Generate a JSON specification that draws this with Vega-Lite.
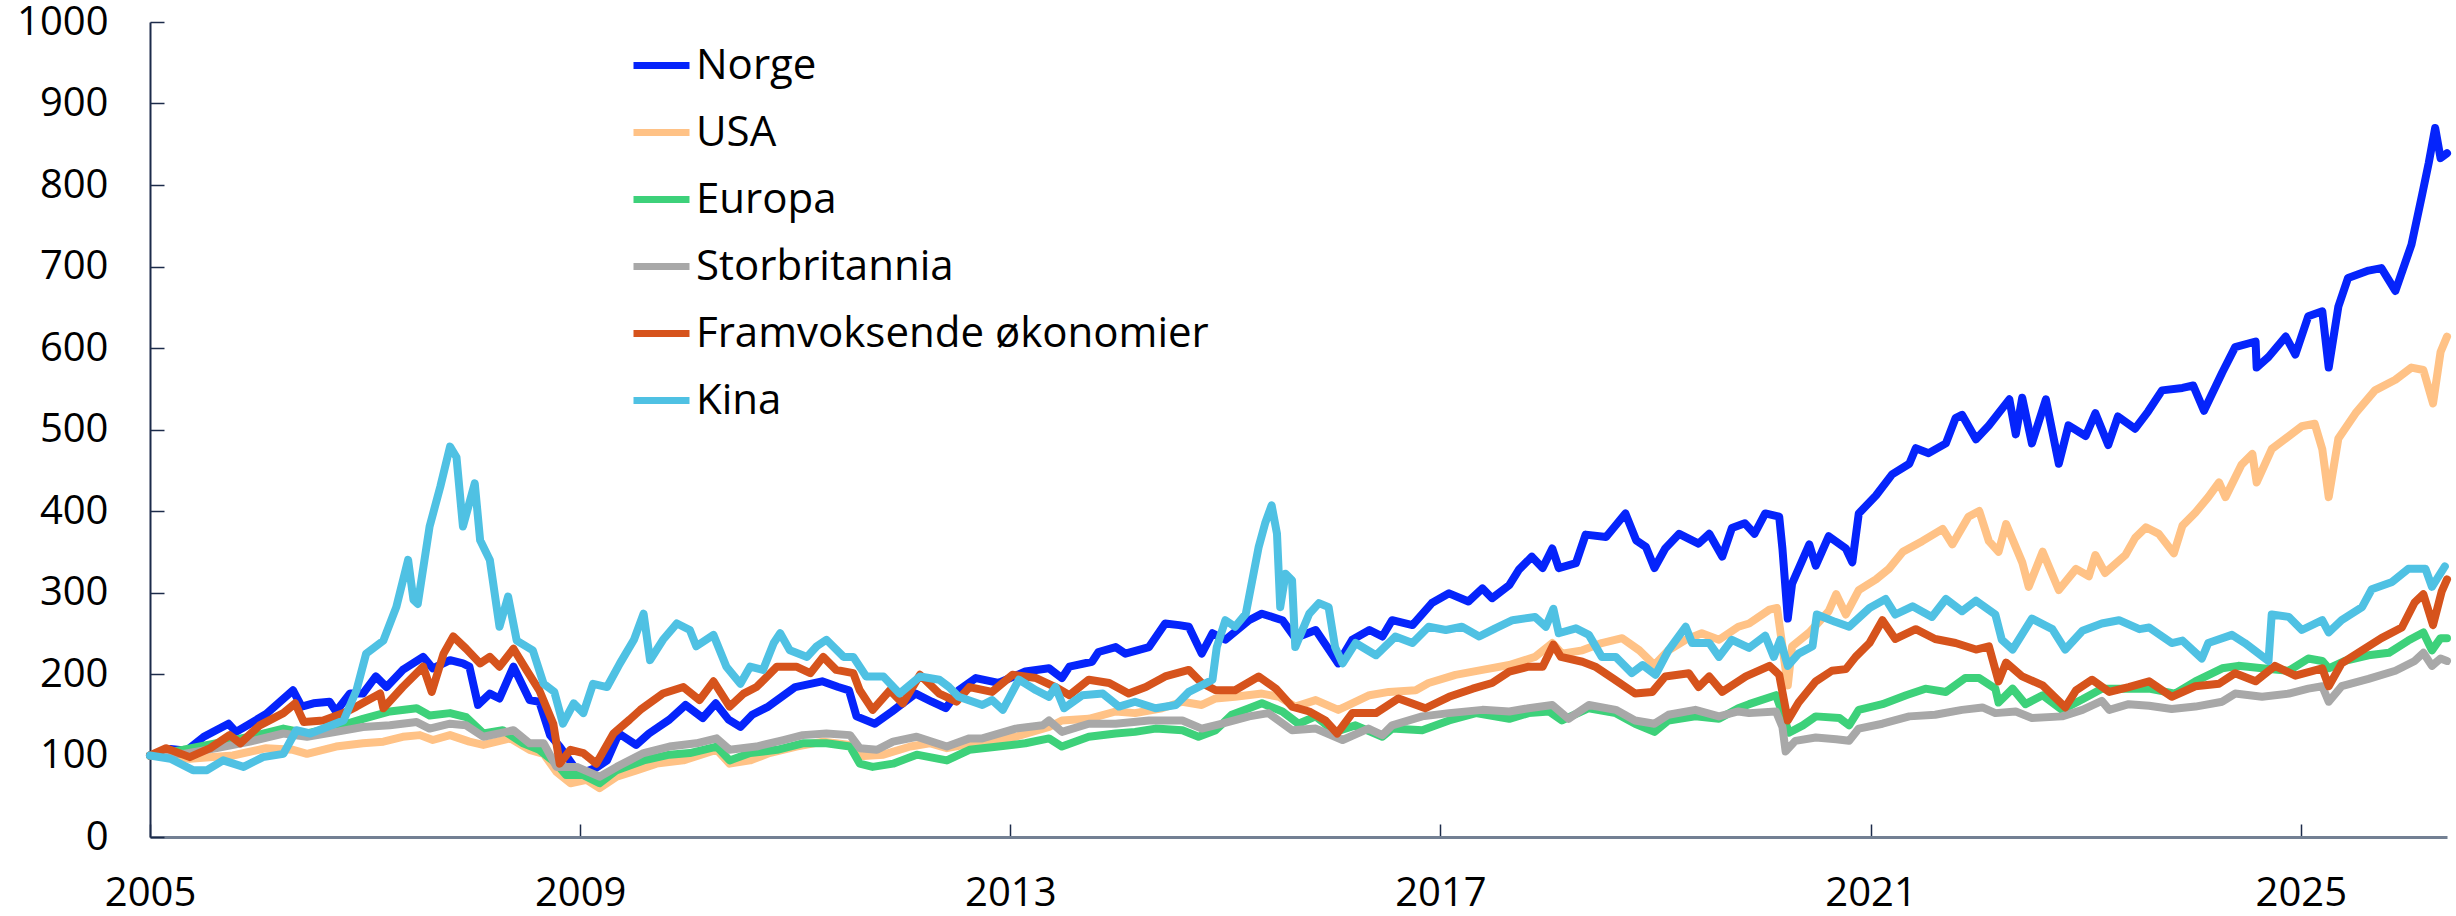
{
"$schema":"https://vega.github.io/schema/vega-lite/v6.json",
"width":2297,"height":815,
"autosize":{"type":"none"},
"padding":{"left":150,"top":22,"right":9,"bottom":79},
"background":"white",
"config":{"view":{"stroke":null},"font":"Open Sans"},
"data":{"values":[
{"s":"Norge","t":2005.0,"v":100},{"s":"Norge","t":2005.19,"v":108},{"s":"Norge","t":2005.34,"v":106},{"s":"Norge","t":2005.5,"v":123},{"s":"Norge","t":2005.73,"v":139},{"s":"Norge","t":2005.8,"v":129},{"s":"Norge","t":2005.93,"v":139},{"s":"Norge","t":2006.08,"v":151},{"s":"Norge","t":2006.33,"v":180},{"s":"Norge","t":2006.41,"v":160},{"s":"Norge","t":2006.52,"v":164},{"s":"Norge","t":2006.67,"v":166},{"s":"Norge","t":2006.73,"v":154},{"s":"Norge","t":2006.86,"v":176},{"s":"Norge","t":2006.98,"v":176},{"s":"Norge","t":2007.1,"v":197},{"s":"Norge","t":2007.2,"v":184},{"s":"Norge","t":2007.35,"v":205},{"s":"Norge","t":2007.54,"v":221},{"s":"Norge","t":2007.63,"v":207},{"s":"Norge","t":2007.79,"v":217},{"s":"Norge","t":2007.91,"v":213},{"s":"Norge","t":2007.97,"v":209},{"s":"Norge","t":2008.05,"v":162},{"s":"Norge","t":2008.16,"v":176},{"s":"Norge","t":2008.25,"v":170},{"s":"Norge","t":2008.38,"v":209},{"s":"Norge","t":2008.53,"v":168},{"s":"Norge","t":2008.62,"v":166},{"s":"Norge","t":2008.72,"v":125},{"s":"Norge","t":2008.81,"v":111},{"s":"Norge","t":2008.87,"v":100},{"s":"Norge","t":2008.95,"v":85},{"s":"Norge","t":2009.05,"v":80},{"s":"Norge","t":2009.15,"v":85},{"s":"Norge","t":2009.25,"v":94},{"s":"Norge","t":2009.36,"v":127},{"s":"Norge","t":2009.52,"v":113},{"s":"Norge","t":2009.64,"v":127},{"s":"Norge","t":2009.83,"v":144},{"s":"Norge","t":2009.98,"v":162},{"s":"Norge","t":2010.14,"v":146},{"s":"Norge","t":2010.26,"v":164},{"s":"Norge","t":2010.38,"v":144},{"s":"Norge","t":2010.49,"v":135},{"s":"Norge","t":2010.6,"v":150},{"s":"Norge","t":2010.75,"v":160},{"s":"Norge","t":2011.0,"v":184},{"s":"Norge","t":2011.25,"v":191},{"s":"Norge","t":2011.4,"v":184},{"s":"Norge","t":2011.5,"v":180},{"s":"Norge","t":2011.57,"v":148},{"s":"Norge","t":2011.74,"v":139},{"s":"Norge","t":2011.9,"v":154},{"s":"Norge","t":2012.12,"v":176},{"s":"Norge","t":2012.27,"v":166},{"s":"Norge","t":2012.4,"v":158},{"s":"Norge","t":2012.52,"v":180},{"s":"Norge","t":2012.68,"v":195},{"s":"Norge","t":2012.89,"v":189},{"s":"Norge","t":2013.14,"v":203},{"s":"Norge","t":2013.36,"v":207},{"s":"Norge","t":2013.48,"v":195},{"s":"Norge","t":2013.55,"v":209},{"s":"Norge","t":2013.76,"v":215},{"s":"Norge","t":2013.82,"v":227},{"s":"Norge","t":2013.98,"v":233},{"s":"Norge","t":2014.07,"v":225},{"s":"Norge","t":2014.29,"v":233},{"s":"Norge","t":2014.44,"v":262},{"s":"Norge","t":2014.57,"v":260},{"s":"Norge","t":2014.66,"v":258},{"s":"Norge","t":2014.78,"v":225},{"s":"Norge","t":2014.88,"v":250},{"s":"Norge","t":2015.0,"v":242},{"s":"Norge","t":2015.22,"v":266},{"s":"Norge","t":2015.34,"v":274},{"s":"Norge","t":2015.53,"v":266},{"s":"Norge","t":2015.65,"v":244},{"s":"Norge","t":2015.84,"v":254},{"s":"Norge","t":2016.05,"v":213},{"s":"Norge","t":2016.18,"v":242},{"s":"Norge","t":2016.34,"v":254},{"s":"Norge","t":2016.46,"v":246},{"s":"Norge","t":2016.55,"v":266},{"s":"Norge","t":2016.74,"v":260},{"s":"Norge","t":2016.92,"v":287},{"s":"Norge","t":2017.08,"v":299},{"s":"Norge","t":2017.26,"v":289},{"s":"Norge","t":2017.39,"v":305},{"s":"Norge","t":2017.48,"v":293},{"s":"Norge","t":2017.64,"v":309},{"s":"Norge","t":2017.73,"v":328},{"s":"Norge","t":2017.85,"v":344},{"s":"Norge","t":2017.95,"v":330},{"s":"Norge","t":2018.04,"v":354},{"s":"Norge","t":2018.1,"v":330},{"s":"Norge","t":2018.26,"v":336},{"s":"Norge","t":2018.35,"v":371},{"s":"Norge","t":2018.54,"v":368},{"s":"Norge","t":2018.72,"v":397},{"s":"Norge","t":2018.82,"v":364},{"s":"Norge","t":2018.91,"v":356},{"s":"Norge","t":2018.99,"v":330},{"s":"Norge","t":2019.09,"v":354},{"s":"Norge","t":2019.22,"v":372},{"s":"Norge","t":2019.4,"v":360},{"s":"Norge","t":2019.5,"v":372},{"s":"Norge","t":2019.62,"v":344},{"s":"Norge","t":2019.71,"v":379},{"s":"Norge","t":2019.83,"v":385},{"s":"Norge","t":2019.92,"v":372},{"s":"Norge","t":2020.02,"v":397},{"s":"Norge","t":2020.15,"v":393},{"s":"Norge","t":2020.18,"v":354},{"s":"Norge","t":2020.23,"v":268},{"s":"Norge","t":2020.27,"v":311},{"s":"Norge","t":2020.43,"v":359},{"s":"Norge","t":2020.49,"v":333},{"s":"Norge","t":2020.61,"v":369},{"s":"Norge","t":2020.77,"v":354},{"s":"Norge","t":2020.83,"v":337},{"s":"Norge","t":2020.89,"v":397},{"s":"Norge","t":2021.05,"v":419},{"s":"Norge","t":2021.2,"v":445},{"s":"Norge","t":2021.36,"v":458},{"s":"Norge","t":2021.42,"v":477},{"s":"Norge","t":2021.54,"v":471},{"s":"Norge","t":2021.7,"v":483},{"s":"Norge","t":2021.79,"v":514},{"s":"Norge","t":2021.85,"v":518},{"s":"Norge","t":2021.98,"v":488},{"s":"Norge","t":2022.1,"v":505},{"s":"Norge","t":2022.29,"v":537},{"s":"Norge","t":2022.35,"v":494},{"s":"Norge","t":2022.41,"v":539},{"s":"Norge","t":2022.5,"v":483},{"s":"Norge","t":2022.63,"v":537},{"s":"Norge","t":2022.75,"v":458},{"s":"Norge","t":2022.84,"v":505},{"s":"Norge","t":2023.0,"v":492},{"s":"Norge","t":2023.09,"v":520},{"s":"Norge","t":2023.21,"v":481},{"s":"Norge","t":2023.3,"v":516},{"s":"Norge","t":2023.46,"v":501},{"s":"Norge","t":2023.58,"v":522},{"s":"Norge","t":2023.71,"v":548},{"s":"Norge","t":2023.9,"v":551},{"s":"Norge","t":2024.0,"v":554},{"s":"Norge","t":2024.1,"v":523},{"s":"Norge","t":2024.27,"v":570},{"s":"Norge","t":2024.39,"v":601},{"s":"Norge","t":2024.58,"v":608},{"s":"Norge","t":2024.59,"v":576},{"s":"Norge","t":2024.7,"v":589},{"s":"Norge","t":2024.86,"v":614},{"s":"Norge","t":2024.95,"v":592},{"s":"Norge","t":2025.07,"v":639},{"s":"Norge","t":2025.2,"v":645},{"s":"Norge","t":2025.26,"v":576},{"s":"Norge","t":2025.35,"v":651},{"s":"Norge","t":2025.44,"v":686},{"s":"Norge","t":2025.63,"v":695},{"s":"Norge","t":2025.75,"v":698},{"s":"Norge","t":2025.88,"v":670},{"s":"Norge","t":2026.03,"v":727},{"s":"Norge","t":2026.13,"v":789},{"s":"Norge","t":2026.19,"v":827},{"s":"Norge","t":2026.25,"v":870},{"s":"Norge","t":2026.3,"v":833},{"s":"Norge","t":2026.36,"v":839},
{"s":"USA","t":2005.0,"v":100},{"s":"USA","t":2005.37,"v":96},{"s":"USA","t":2005.77,"v":100},{"s":"USA","t":2006.08,"v":109},{"s":"USA","t":2006.33,"v":107},{"s":"USA","t":2006.46,"v":102},{"s":"USA","t":2006.73,"v":111},{"s":"USA","t":2006.98,"v":115},{"s":"USA","t":2007.17,"v":117},{"s":"USA","t":2007.35,"v":123},{"s":"USA","t":2007.51,"v":125},{"s":"USA","t":2007.63,"v":119},{"s":"USA","t":2007.79,"v":125},{"s":"USA","t":2007.97,"v":117},{"s":"USA","t":2008.1,"v":113},{"s":"USA","t":2008.35,"v":121},{"s":"USA","t":2008.53,"v":107},{"s":"USA","t":2008.66,"v":102},{"s":"USA","t":2008.78,"v":80},{"s":"USA","t":2008.91,"v":66},{"s":"USA","t":2009.06,"v":70},{"s":"USA","t":2009.18,"v":60},{"s":"USA","t":2009.34,"v":74},{"s":"USA","t":2009.53,"v":82},{"s":"USA","t":2009.71,"v":90},{"s":"USA","t":2009.96,"v":94},{"s":"USA","t":2010.27,"v":107},{"s":"USA","t":2010.39,"v":90},{"s":"USA","t":2010.58,"v":94},{"s":"USA","t":2010.76,"v":103},{"s":"USA","t":2011.01,"v":111},{"s":"USA","t":2011.26,"v":117},{"s":"USA","t":2011.51,"v":113},{"s":"USA","t":2011.6,"v":99},{"s":"USA","t":2011.82,"v":101},{"s":"USA","t":2012.07,"v":111},{"s":"USA","t":2012.25,"v":115},{"s":"USA","t":2012.41,"v":109},{"s":"USA","t":2012.74,"v":117},{"s":"USA","t":2013.05,"v":123},{"s":"USA","t":2013.36,"v":135},{"s":"USA","t":2013.48,"v":143},{"s":"USA","t":2013.73,"v":145},{"s":"USA","t":2013.98,"v":154},{"s":"USA","t":2014.16,"v":152},{"s":"USA","t":2014.41,"v":158},{"s":"USA","t":2014.6,"v":166},{"s":"USA","t":2014.78,"v":162},{"s":"USA","t":2014.91,"v":170},{"s":"USA","t":2015.09,"v":172},{"s":"USA","t":2015.34,"v":176},{"s":"USA","t":2015.5,"v":172},{"s":"USA","t":2015.65,"v":160},{"s":"USA","t":2015.84,"v":168},{"s":"USA","t":2016.05,"v":156},{"s":"USA","t":2016.15,"v":162},{"s":"USA","t":2016.34,"v":174},{"s":"USA","t":2016.52,"v":178},{"s":"USA","t":2016.77,"v":180},{"s":"USA","t":2016.89,"v":189},{"s":"USA","t":2017.14,"v":199},{"s":"USA","t":2017.39,"v":205},{"s":"USA","t":2017.64,"v":211},{"s":"USA","t":2017.88,"v":221},{"s":"USA","t":2018.04,"v":238},{"s":"USA","t":2018.13,"v":225},{"s":"USA","t":2018.32,"v":229},{"s":"USA","t":2018.5,"v":238},{"s":"USA","t":2018.69,"v":244},{"s":"USA","t":2018.85,"v":229},{"s":"USA","t":2018.99,"v":211},{"s":"USA","t":2019.12,"v":229},{"s":"USA","t":2019.28,"v":242},{"s":"USA","t":2019.43,"v":250},{"s":"USA","t":2019.59,"v":242},{"s":"USA","t":2019.77,"v":258},{"s":"USA","t":2019.87,"v":262},{"s":"USA","t":2020.06,"v":279},{"s":"USA","t":2020.13,"v":281},{"s":"USA","t":2020.18,"v":234},{"s":"USA","t":2020.23,"v":186},{"s":"USA","t":2020.27,"v":234},{"s":"USA","t":2020.43,"v":251},{"s":"USA","t":2020.61,"v":277},{"s":"USA","t":2020.68,"v":298},{"s":"USA","t":2020.77,"v":273},{"s":"USA","t":2020.89,"v":303},{"s":"USA","t":2021.05,"v":316},{"s":"USA","t":2021.17,"v":329},{"s":"USA","t":2021.3,"v":350},{"s":"USA","t":2021.48,"v":363},{"s":"USA","t":2021.67,"v":378},{"s":"USA","t":2021.76,"v":359},{"s":"USA","t":2021.91,"v":393},{"s":"USA","t":2022.01,"v":400},{"s":"USA","t":2022.1,"v":363},{"s":"USA","t":2022.19,"v":350},{"s":"USA","t":2022.26,"v":384},{"s":"USA","t":2022.41,"v":337},{"s":"USA","t":2022.47,"v":307},{"s":"USA","t":2022.6,"v":350},{"s":"USA","t":2022.75,"v":303},{"s":"USA","t":2022.91,"v":329},{"s":"USA","t":2023.03,"v":320},{"s":"USA","t":2023.09,"v":346},{"s":"USA","t":2023.18,"v":324},{"s":"USA","t":2023.37,"v":346},{"s":"USA","t":2023.46,"v":367},{"s":"USA","t":2023.56,"v":380},{"s":"USA","t":2023.68,"v":372},{"s":"USA","t":2023.82,"v":348},{"s":"USA","t":2023.9,"v":382},{"s":"USA","t":2024.02,"v":398},{"s":"USA","t":2024.14,"v":417},{"s":"USA","t":2024.24,"v":435},{"s":"USA","t":2024.3,"v":417},{"s":"USA","t":2024.45,"v":457},{"s":"USA","t":2024.55,"v":470},{"s":"USA","t":2024.59,"v":435},{"s":"USA","t":2024.73,"v":476},{"s":"USA","t":2024.86,"v":489},{"s":"USA","t":2025.01,"v":504},{"s":"USA","t":2025.13,"v":507},{"s":"USA","t":2025.2,"v":476},{"s":"USA","t":2025.26,"v":417},{"s":"USA","t":2025.35,"v":489},{"s":"USA","t":2025.51,"v":520},{"s":"USA","t":2025.69,"v":548},{"s":"USA","t":2025.88,"v":561},{"s":"USA","t":2026.03,"v":576},{"s":"USA","t":2026.14,"v":573},{"s":"USA","t":2026.23,"v":532},{"s":"USA","t":2026.3,"v":595},{"s":"USA","t":2026.36,"v":614},
{"s":"Europa","t":2005.0,"v":100},{"s":"Europa","t":2005.31,"v":107},{"s":"Europa","t":2005.62,"v":115},{"s":"Europa","t":2005.93,"v":123},{"s":"Europa","t":2006.24,"v":133},{"s":"Europa","t":2006.46,"v":127},{"s":"Europa","t":2006.73,"v":135},{"s":"Europa","t":2006.98,"v":145},{"s":"Europa","t":2007.23,"v":154},{"s":"Europa","t":2007.48,"v":158},{"s":"Europa","t":2007.6,"v":149},{"s":"Europa","t":2007.79,"v":152},{"s":"Europa","t":2007.94,"v":147},{"s":"Europa","t":2008.1,"v":127},{"s":"Europa","t":2008.28,"v":131},{"s":"Europa","t":2008.47,"v":115},{"s":"Europa","t":2008.62,"v":107},{"s":"Europa","t":2008.78,"v":90},{"s":"Europa","t":2008.87,"v":76},{"s":"Europa","t":2009.03,"v":76},{"s":"Europa","t":2009.18,"v":66},{"s":"Europa","t":2009.34,"v":82},{"s":"Europa","t":2009.59,"v":94},{"s":"Europa","t":2009.83,"v":101},{"s":"Europa","t":2010.02,"v":103},{"s":"Europa","t":2010.27,"v":111},{"s":"Europa","t":2010.39,"v":94},{"s":"Europa","t":2010.58,"v":103},{"s":"Europa","t":2010.83,"v":107},{"s":"Europa","t":2011.07,"v":115},{"s":"Europa","t":2011.29,"v":115},{"s":"Europa","t":2011.51,"v":111},{"s":"Europa","t":2011.6,"v":90},{"s":"Europa","t":2011.72,"v":86},{"s":"Europa","t":2011.91,"v":90},{"s":"Europa","t":2012.13,"v":101},{"s":"Europa","t":2012.41,"v":94},{"s":"Europa","t":2012.62,"v":107},{"s":"Europa","t":2012.89,"v":111},{"s":"Europa","t":2013.14,"v":115},{"s":"Europa","t":2013.36,"v":121},{"s":"Europa","t":2013.48,"v":111},{"s":"Europa","t":2013.73,"v":123},{"s":"Europa","t":2013.98,"v":127},{"s":"Europa","t":2014.16,"v":129},{"s":"Europa","t":2014.35,"v":133},{"s":"Europa","t":2014.6,"v":131},{"s":"Europa","t":2014.75,"v":123},{"s":"Europa","t":2014.91,"v":131},{"s":"Europa","t":2015.06,"v":150},{"s":"Europa","t":2015.22,"v":158},{"s":"Europa","t":2015.34,"v":164},{"s":"Europa","t":2015.53,"v":154},{"s":"Europa","t":2015.68,"v":139},{"s":"Europa","t":2015.84,"v":148},{"s":"Europa","t":2016.02,"v":129},{"s":"Europa","t":2016.21,"v":137},{"s":"Europa","t":2016.46,"v":123},{"s":"Europa","t":2016.55,"v":133},{"s":"Europa","t":2016.83,"v":131},{"s":"Europa","t":2017.08,"v":143},{"s":"Europa","t":2017.33,"v":152},{"s":"Europa","t":2017.64,"v":145},{"s":"Europa","t":2017.82,"v":152},{"s":"Europa","t":2018.01,"v":154},{"s":"Europa","t":2018.13,"v":143},{"s":"Europa","t":2018.38,"v":158},{"s":"Europa","t":2018.63,"v":152},{"s":"Europa","t":2018.81,"v":139},{"s":"Europa","t":2018.99,"v":129},{"s":"Europa","t":2019.12,"v":143},{"s":"Europa","t":2019.37,"v":148},{"s":"Europa","t":2019.59,"v":145},{"s":"Europa","t":2019.77,"v":158},{"s":"Europa","t":2019.87,"v":163},{"s":"Europa","t":2020.12,"v":174},{"s":"Europa","t":2020.18,"v":152},{"s":"Europa","t":2020.24,"v":128},{"s":"Europa","t":2020.37,"v":137},{"s":"Europa","t":2020.49,"v":148},{"s":"Europa","t":2020.71,"v":146},{"s":"Europa","t":2020.8,"v":137},{"s":"Europa","t":2020.89,"v":156},{"s":"Europa","t":2021.11,"v":163},{"s":"Europa","t":2021.33,"v":174},{"s":"Europa","t":2021.51,"v":182},{"s":"Europa","t":2021.7,"v":178},{"s":"Europa","t":2021.88,"v":195},{"s":"Europa","t":2022.01,"v":195},{"s":"Europa","t":2022.16,"v":182},{"s":"Europa","t":2022.19,"v":165},{"s":"Europa","t":2022.32,"v":182},{"s":"Europa","t":2022.44,"v":163},{"s":"Europa","t":2022.6,"v":174},{"s":"Europa","t":2022.78,"v":156},{"s":"Europa","t":2022.97,"v":169},{"s":"Europa","t":2023.15,"v":182},{"s":"Europa","t":2023.4,"v":182},{"s":"Europa","t":2023.59,"v":182},{"s":"Europa","t":2023.83,"v":176},{"s":"Europa","t":2024.02,"v":191},{"s":"Europa","t":2024.27,"v":207},{"s":"Europa","t":2024.42,"v":210},{"s":"Europa","t":2024.64,"v":207},{"s":"Europa","t":2024.89,"v":204},{"s":"Europa","t":2025.07,"v":219},{"s":"Europa","t":2025.2,"v":216},{"s":"Europa","t":2025.26,"v":207},{"s":"Europa","t":2025.41,"v":216},{"s":"Europa","t":2025.63,"v":223},{"s":"Europa","t":2025.82,"v":226},{"s":"Europa","t":2026.0,"v":241},{"s":"Europa","t":2026.14,"v":251},{"s":"Europa","t":2026.22,"v":229},{"s":"Europa","t":2026.3,"v":244},{"s":"Europa","t":2026.36,"v":244},
{"s":"Storbritannia","t":2005.0,"v":100},{"s":"Storbritannia","t":2005.31,"v":102},{"s":"Storbritannia","t":2005.62,"v":109},{"s":"Storbritannia","t":2005.93,"v":117},{"s":"Storbritannia","t":2006.24,"v":127},{"s":"Storbritannia","t":2006.46,"v":123},{"s":"Storbritannia","t":2006.73,"v":129},{"s":"Storbritannia","t":2006.98,"v":135},{"s":"Storbritannia","t":2007.23,"v":137},{"s":"Storbritannia","t":2007.48,"v":141},{"s":"Storbritannia","t":2007.6,"v":133},{"s":"Storbritannia","t":2007.79,"v":139},{"s":"Storbritannia","t":2007.94,"v":137},{"s":"Storbritannia","t":2008.1,"v":123},{"s":"Storbritannia","t":2008.38,"v":131},{"s":"Storbritannia","t":2008.53,"v":115},{"s":"Storbritannia","t":2008.66,"v":115},{"s":"Storbritannia","t":2008.78,"v":86},{"s":"Storbritannia","t":2008.97,"v":86},{"s":"Storbritannia","t":2009.18,"v":74},{"s":"Storbritannia","t":2009.34,"v":86},{"s":"Storbritannia","t":2009.59,"v":103},{"s":"Storbritannia","t":2009.83,"v":111},{"s":"Storbritannia","t":2010.08,"v":115},{"s":"Storbritannia","t":2010.27,"v":121},{"s":"Storbritannia","t":2010.39,"v":107},{"s":"Storbritannia","t":2010.64,"v":111},{"s":"Storbritannia","t":2010.89,"v":119},{"s":"Storbritannia","t":2011.07,"v":125},{"s":"Storbritannia","t":2011.29,"v":127},{"s":"Storbritannia","t":2011.51,"v":125},{"s":"Storbritannia","t":2011.6,"v":109},{"s":"Storbritannia","t":2011.76,"v":107},{"s":"Storbritannia","t":2011.91,"v":117},{"s":"Storbritannia","t":2012.13,"v":123},{"s":"Storbritannia","t":2012.41,"v":111},{"s":"Storbritannia","t":2012.62,"v":121},{"s":"Storbritannia","t":2012.74,"v":121},{"s":"Storbritannia","t":2013.05,"v":133},{"s":"Storbritannia","t":2013.3,"v":137},{"s":"Storbritannia","t":2013.36,"v":143},{"s":"Storbritannia","t":2013.48,"v":129},{"s":"Storbritannia","t":2013.73,"v":139},{"s":"Storbritannia","t":2013.98,"v":139},{"s":"Storbritannia","t":2014.29,"v":143},{"s":"Storbritannia","t":2014.6,"v":143},{"s":"Storbritannia","t":2014.78,"v":133},{"s":"Storbritannia","t":2014.97,"v":139},{"s":"Storbritannia","t":2015.22,"v":148},{"s":"Storbritannia","t":2015.4,"v":152},{"s":"Storbritannia","t":2015.62,"v":131},{"s":"Storbritannia","t":2015.84,"v":133},{"s":"Storbritannia","t":2016.09,"v":119},{"s":"Storbritannia","t":2016.33,"v":133},{"s":"Storbritannia","t":2016.46,"v":125},{"s":"Storbritannia","t":2016.55,"v":137},{"s":"Storbritannia","t":2016.83,"v":148},{"s":"Storbritannia","t":2017.08,"v":152},{"s":"Storbritannia","t":2017.39,"v":156},{"s":"Storbritannia","t":2017.64,"v":154},{"s":"Storbritannia","t":2017.82,"v":158},{"s":"Storbritannia","t":2018.04,"v":162},{"s":"Storbritannia","t":2018.19,"v":145},{"s":"Storbritannia","t":2018.38,"v":162},{"s":"Storbritannia","t":2018.63,"v":156},{"s":"Storbritannia","t":2018.81,"v":143},{"s":"Storbritannia","t":2018.99,"v":139},{"s":"Storbritannia","t":2019.12,"v":150},{"s":"Storbritannia","t":2019.37,"v":156},{"s":"Storbritannia","t":2019.59,"v":148},{"s":"Storbritannia","t":2019.77,"v":154},{"s":"Storbritannia","t":2019.87,"v":152},{"s":"Storbritannia","t":2020.12,"v":154},{"s":"Storbritannia","t":2020.18,"v":135},{"s":"Storbritannia","t":2020.21,"v":105},{"s":"Storbritannia","t":2020.3,"v":118},{"s":"Storbritannia","t":2020.49,"v":122},{"s":"Storbritannia","t":2020.68,"v":120},{"s":"Storbritannia","t":2020.8,"v":118},{"s":"Storbritannia","t":2020.89,"v":133},{"s":"Storbritannia","t":2021.11,"v":139},{"s":"Storbritannia","t":2021.36,"v":148},{"s":"Storbritannia","t":2021.6,"v":150},{"s":"Storbritannia","t":2021.85,"v":156},{"s":"Storbritannia","t":2022.04,"v":159},{"s":"Storbritannia","t":2022.16,"v":152},{"s":"Storbritannia","t":2022.35,"v":154},{"s":"Storbritannia","t":2022.5,"v":146},{"s":"Storbritannia","t":2022.78,"v":148},{"s":"Storbritannia","t":2022.97,"v":156},{"s":"Storbritannia","t":2023.15,"v":167},{"s":"Storbritannia","t":2023.22,"v":156},{"s":"Storbritannia","t":2023.4,"v":163},{"s":"Storbritannia","t":2023.59,"v":161},{"s":"Storbritannia","t":2023.8,"v":157},{"s":"Storbritannia","t":2024.02,"v":160},{"s":"Storbritannia","t":2024.27,"v":166},{"s":"Storbritannia","t":2024.39,"v":176},{"s":"Storbritannia","t":2024.64,"v":172},{"s":"Storbritannia","t":2024.89,"v":176},{"s":"Storbritannia","t":2025.07,"v":182},{"s":"Storbritannia","t":2025.2,"v":185},{"s":"Storbritannia","t":2025.26,"v":166},{"s":"Storbritannia","t":2025.38,"v":185},{"s":"Storbritannia","t":2025.63,"v":194},{"s":"Storbritannia","t":2025.88,"v":204},{"s":"Storbritannia","t":2026.06,"v":216},{"s":"Storbritannia","t":2026.14,"v":226},{"s":"Storbritannia","t":2026.22,"v":210},{"s":"Storbritannia","t":2026.3,"v":219},{"s":"Storbritannia","t":2026.36,"v":216},
{"s":"Framvoksende økonomier","t":2005.0,"v":100},{"s":"Framvoksende økonomier","t":2005.15,"v":109},{"s":"Framvoksende økonomier","t":2005.37,"v":98},{"s":"Framvoksende økonomier","t":2005.56,"v":109},{"s":"Framvoksende økonomier","t":2005.74,"v":125},{"s":"Framvoksende økonomier","t":2005.84,"v":115},{"s":"Framvoksende økonomier","t":2006.02,"v":137},{"s":"Framvoksende økonomier","t":2006.24,"v":152},{"s":"Framvoksende økonomier","t":2006.35,"v":164},{"s":"Framvoksende økonomier","t":2006.43,"v":141},{"s":"Framvoksende økonomier","t":2006.61,"v":143},{"s":"Framvoksende økonomier","t":2006.8,"v":152},{"s":"Framvoksende økonomier","t":2006.92,"v":160},{"s":"Framvoksende økonomier","t":2007.14,"v":176},{"s":"Framvoksende økonomier","t":2007.17,"v":158},{"s":"Framvoksende økonomier","t":2007.35,"v":184},{"s":"Framvoksende økonomier","t":2007.54,"v":209},{"s":"Framvoksende økonomier","t":2007.62,"v":178},{"s":"Framvoksende økonomier","t":2007.73,"v":225},{"s":"Framvoksende økonomier","t":2007.82,"v":246},{"s":"Framvoksende økonomier","t":2007.94,"v":231},{"s":"Framvoksende økonomier","t":2008.07,"v":213},{"s":"Framvoksende økonomier","t":2008.16,"v":221},{"s":"Framvoksende økonomier","t":2008.25,"v":209},{"s":"Framvoksende økonomier","t":2008.38,"v":231},{"s":"Framvoksende økonomier","t":2008.5,"v":205},{"s":"Framvoksende økonomier","t":2008.62,"v":180},{"s":"Framvoksende økonomier","t":2008.75,"v":139},{"s":"Framvoksende økonomier","t":2008.81,"v":90},{"s":"Framvoksende økonomier","t":2008.91,"v":107},{"s":"Framvoksende økonomier","t":2009.03,"v":103},{"s":"Framvoksende økonomier","t":2009.15,"v":90},{"s":"Framvoksende økonomier","t":2009.31,"v":127},{"s":"Framvoksende økonomier","t":2009.46,"v":144},{"s":"Framvoksende økonomier","t":2009.56,"v":156},{"s":"Framvoksende økonomier","t":2009.77,"v":176},{"s":"Framvoksende økonomier","t":2009.96,"v":184},{"s":"Framvoksende økonomier","t":2010.11,"v":168},{"s":"Framvoksende økonomier","t":2010.24,"v":191},{"s":"Framvoksende økonomier","t":2010.39,"v":160},{"s":"Framvoksende økonomier","t":2010.52,"v":176},{"s":"Framvoksende økonomier","t":2010.64,"v":184},{"s":"Framvoksende økonomier","t":2010.83,"v":209},{"s":"Framvoksende økonomier","t":2011.01,"v":209},{"s":"Framvoksende økonomier","t":2011.14,"v":201},{"s":"Framvoksende økonomier","t":2011.26,"v":221},{"s":"Framvoksende økonomier","t":2011.38,"v":205},{"s":"Framvoksende økonomier","t":2011.54,"v":201},{"s":"Framvoksende økonomier","t":2011.6,"v":180},{"s":"Framvoksende økonomier","t":2011.72,"v":156},{"s":"Framvoksende økonomier","t":2011.88,"v":180},{"s":"Framvoksende økonomier","t":2012.0,"v":164},{"s":"Framvoksende økonomier","t":2012.16,"v":199},{"s":"Framvoksende økonomier","t":2012.34,"v":176},{"s":"Framvoksende økonomier","t":2012.5,"v":166},{"s":"Framvoksende økonomier","t":2012.62,"v":184},{"s":"Framvoksende økonomier","t":2012.83,"v":178},{"s":"Framvoksende økonomier","t":2013.02,"v":199},{"s":"Framvoksende økonomier","t":2013.24,"v":195},{"s":"Framvoksende økonomier","t":2013.42,"v":184},{"s":"Framvoksende økonomier","t":2013.55,"v":174},{"s":"Framvoksende økonomier","t":2013.73,"v":193},{"s":"Framvoksende økonomier","t":2013.92,"v":189},{"s":"Framvoksende økonomier","t":2014.1,"v":176},{"s":"Framvoksende økonomier","t":2014.26,"v":184},{"s":"Framvoksende økonomier","t":2014.44,"v":197},{"s":"Framvoksende økonomier","t":2014.66,"v":205},{"s":"Framvoksende økonomier","t":2014.78,"v":189},{"s":"Framvoksende økonomier","t":2014.91,"v":180},{"s":"Framvoksende økonomier","t":2015.09,"v":180},{"s":"Framvoksende økonomier","t":2015.31,"v":197},{"s":"Framvoksende økonomier","t":2015.47,"v":182},{"s":"Framvoksende økonomier","t":2015.62,"v":160},{"s":"Framvoksende økonomier","t":2015.78,"v":154},{"s":"Framvoksende økonomier","t":2015.93,"v":143},{"s":"Framvoksende økonomier","t":2016.04,"v":127},{"s":"Framvoksende økonomier","t":2016.18,"v":152},{"s":"Framvoksende økonomier","t":2016.27,"v":152},{"s":"Framvoksende økonomier","t":2016.4,"v":152},{"s":"Framvoksende økonomier","t":2016.61,"v":170},{"s":"Framvoksende økonomier","t":2016.86,"v":158},{"s":"Framvoksende økonomier","t":2017.08,"v":172},{"s":"Framvoksende økonomier","t":2017.3,"v":182},{"s":"Framvoksende økonomier","t":2017.48,"v":189},{"s":"Framvoksende økonomier","t":2017.64,"v":203},{"s":"Framvoksende økonomier","t":2017.82,"v":209},{"s":"Framvoksende økonomier","t":2017.95,"v":209},{"s":"Framvoksende økonomier","t":2018.05,"v":236},{"s":"Framvoksende økonomier","t":2018.12,"v":221},{"s":"Framvoksende økonomier","t":2018.32,"v":215},{"s":"Framvoksende økonomier","t":2018.44,"v":209},{"s":"Framvoksende økonomier","t":2018.6,"v":195},{"s":"Framvoksende økonomier","t":2018.81,"v":176},{"s":"Framvoksende økonomier","t":2018.97,"v":178},{"s":"Framvoksende økonomier","t":2019.09,"v":197},{"s":"Framvoksende økonomier","t":2019.31,"v":201},{"s":"Framvoksende økonomier","t":2019.4,"v":184},{"s":"Framvoksende økonomier","t":2019.5,"v":197},{"s":"Framvoksende økonomier","t":2019.62,"v":178},{"s":"Framvoksende økonomier","t":2019.84,"v":197},{"s":"Framvoksende økonomier","t":2020.06,"v":210},{"s":"Framvoksende økonomier","t":2020.15,"v":199},{"s":"Framvoksende økonomier","t":2020.23,"v":143},{"s":"Framvoksende økonomier","t":2020.33,"v":165},{"s":"Framvoksende økonomier","t":2020.49,"v":191},{"s":"Framvoksende økonomier","t":2020.64,"v":204},{"s":"Framvoksende økonomier","t":2020.77,"v":206},{"s":"Framvoksende økonomier","t":2020.86,"v":221},{"s":"Framvoksende økonomier","t":2020.99,"v":238},{"s":"Framvoksende økonomier","t":2021.11,"v":266},{"s":"Framvoksende økonomier","t":2021.23,"v":243},{"s":"Framvoksende økonomier","t":2021.42,"v":255},{"s":"Framvoksende økonomier","t":2021.6,"v":243},{"s":"Framvoksende økonomier","t":2021.79,"v":238},{"s":"Framvoksende økonomier","t":2021.98,"v":230},{"s":"Framvoksende økonomier","t":2022.1,"v":234},{"s":"Framvoksende økonomier","t":2022.19,"v":191},{"s":"Framvoksende økonomier","t":2022.26,"v":214},{"s":"Framvoksende økonomier","t":2022.41,"v":197},{"s":"Framvoksende økonomier","t":2022.6,"v":186},{"s":"Framvoksende økonomier","t":2022.81,"v":159},{"s":"Framvoksende økonomier","t":2022.91,"v":180},{"s":"Framvoksende økonomier","t":2023.06,"v":193},{"s":"Framvoksende økonomier","t":2023.22,"v":178},{"s":"Framvoksende økonomier","t":2023.4,"v":184},{"s":"Framvoksende økonomier","t":2023.59,"v":191},{"s":"Framvoksende økonomier","t":2023.8,"v":172},{"s":"Framvoksende økonomier","t":2024.02,"v":185},{"s":"Framvoksende økonomier","t":2024.24,"v":188},{"s":"Framvoksende økonomier","t":2024.39,"v":201},{"s":"Framvoksende økonomier","t":2024.58,"v":191},{"s":"Framvoksende økonomier","t":2024.76,"v":210},{"s":"Framvoksende økonomier","t":2024.95,"v":198},{"s":"Framvoksende økonomier","t":2025.2,"v":207},{"s":"Framvoksende økonomier","t":2025.26,"v":185},{"s":"Framvoksende økonomier","t":2025.38,"v":213},{"s":"Framvoksende økonomier","t":2025.57,"v":229},{"s":"Framvoksende økonomier","t":2025.75,"v":244},{"s":"Framvoksende økonomier","t":2025.94,"v":257},{"s":"Framvoksende økonomier","t":2026.06,"v":288},{"s":"Framvoksende økonomier","t":2026.14,"v":298},{"s":"Framvoksende økonomier","t":2026.23,"v":260},{"s":"Framvoksende økonomier","t":2026.31,"v":301},{"s":"Framvoksende økonomier","t":2026.36,"v":316},
{"s":"Kina","t":2005.0,"v":100},{"s":"Kina","t":2005.19,"v":96},{"s":"Kina","t":2005.4,"v":82},{"s":"Kina","t":2005.53,"v":82},{"s":"Kina","t":2005.68,"v":94},{"s":"Kina","t":2005.87,"v":86},{"s":"Kina","t":2006.05,"v":98},{"s":"Kina","t":2006.24,"v":102},{"s":"Kina","t":2006.36,"v":131},{"s":"Kina","t":2006.49,"v":127},{"s":"Kina","t":2006.61,"v":133},{"s":"Kina","t":2006.8,"v":143},{"s":"Kina","t":2006.92,"v":180},{"s":"Kina","t":2007.01,"v":225},{"s":"Kina","t":2007.17,"v":241},{"s":"Kina","t":2007.29,"v":282},{"s":"Kina","t":2007.4,"v":340},{"s":"Kina","t":2007.45,"v":291},{"s":"Kina","t":2007.49,"v":286},{"s":"Kina","t":2007.6,"v":381},{"s":"Kina","t":2007.7,"v":430},{"s":"Kina","t":2007.79,"v":479},{"s":"Kina","t":2007.85,"v":466},{"s":"Kina","t":2007.91,"v":381},{"s":"Kina","t":2008.02,"v":434},{"s":"Kina","t":2008.07,"v":364},{"s":"Kina","t":2008.16,"v":340},{"s":"Kina","t":2008.25,"v":258},{"s":"Kina","t":2008.33,"v":295},{"s":"Kina","t":2008.41,"v":241},{"s":"Kina","t":2008.56,"v":229},{"s":"Kina","t":2008.66,"v":188},{"s":"Kina","t":2008.76,"v":178},{"s":"Kina","t":2008.84,"v":139},{"s":"Kina","t":2008.94,"v":164},{"s":"Kina","t":2009.03,"v":152},{"s":"Kina","t":2009.12,"v":188},{"s":"Kina","t":2009.25,"v":184},{"s":"Kina","t":2009.37,"v":213},{"s":"Kina","t":2009.5,"v":242},{"s":"Kina","t":2009.59,"v":274},{"s":"Kina","t":2009.65,"v":217},{"s":"Kina","t":2009.77,"v":242},{"s":"Kina","t":2009.9,"v":262},{"s":"Kina","t":2010.02,"v":254},{"s":"Kina","t":2010.08,"v":234},{"s":"Kina","t":2010.24,"v":248},{"s":"Kina","t":2010.36,"v":209},{"s":"Kina","t":2010.49,"v":188},{"s":"Kina","t":2010.58,"v":209},{"s":"Kina","t":2010.7,"v":205},{"s":"Kina","t":2010.8,"v":238},{"s":"Kina","t":2010.86,"v":250},{"s":"Kina","t":2010.95,"v":229},{"s":"Kina","t":2011.11,"v":221},{"s":"Kina","t":2011.2,"v":234},{"s":"Kina","t":2011.29,"v":242},{"s":"Kina","t":2011.45,"v":221},{"s":"Kina","t":2011.54,"v":221},{"s":"Kina","t":2011.66,"v":197},{"s":"Kina","t":2011.82,"v":197},{"s":"Kina","t":2011.97,"v":176},{"s":"Kina","t":2012.16,"v":197},{"s":"Kina","t":2012.34,"v":193},{"s":"Kina","t":2012.43,"v":184},{"s":"Kina","t":2012.52,"v":172},{"s":"Kina","t":2012.74,"v":162},{"s":"Kina","t":2012.83,"v":168},{"s":"Kina","t":2012.93,"v":156},{"s":"Kina","t":2013.08,"v":193},{"s":"Kina","t":2013.24,"v":180},{"s":"Kina","t":2013.36,"v":172},{"s":"Kina","t":2013.42,"v":184},{"s":"Kina","t":2013.5,"v":158},{"s":"Kina","t":2013.67,"v":174},{"s":"Kina","t":2013.86,"v":176},{"s":"Kina","t":2014.01,"v":160},{"s":"Kina","t":2014.16,"v":166},{"s":"Kina","t":2014.35,"v":158},{"s":"Kina","t":2014.54,"v":162},{"s":"Kina","t":2014.66,"v":178},{"s":"Kina","t":2014.78,"v":186},{"s":"Kina","t":2014.88,"v":193},{"s":"Kina","t":2014.92,"v":233},{"s":"Kina","t":2015.0,"v":266},{"s":"Kina","t":2015.09,"v":258},{"s":"Kina","t":2015.19,"v":274},{"s":"Kina","t":2015.25,"v":315},{"s":"Kina","t":2015.31,"v":356},{"s":"Kina","t":2015.37,"v":385},{"s":"Kina","t":2015.43,"v":407},{"s":"Kina","t":2015.48,"v":372},{"s":"Kina","t":2015.51,"v":282},{"s":"Kina","t":2015.56,"v":323},{"s":"Kina","t":2015.62,"v":315},{"s":"Kina","t":2015.65,"v":233},{"s":"Kina","t":2015.78,"v":274},{"s":"Kina","t":2015.87,"v":287},{"s":"Kina","t":2015.96,"v":282},{"s":"Kina","t":2016.02,"v":233},{"s":"Kina","t":2016.09,"v":213},{"s":"Kina","t":2016.21,"v":238},{"s":"Kina","t":2016.4,"v":223},{"s":"Kina","t":2016.58,"v":246},{"s":"Kina","t":2016.74,"v":238},{"s":"Kina","t":2016.89,"v":258},{"s":"Kina","t":2017.05,"v":254},{"s":"Kina","t":2017.2,"v":258},{"s":"Kina","t":2017.36,"v":246},{"s":"Kina","t":2017.51,"v":256},{"s":"Kina","t":2017.67,"v":266},{"s":"Kina","t":2017.88,"v":270},{"s":"Kina","t":2017.98,"v":258},{"s":"Kina","t":2018.05,"v":280},{"s":"Kina","t":2018.1,"v":250},{"s":"Kina","t":2018.26,"v":256},{"s":"Kina","t":2018.38,"v":248},{"s":"Kina","t":2018.5,"v":221},{"s":"Kina","t":2018.63,"v":221},{"s":"Kina","t":2018.78,"v":201},{"s":"Kina","t":2018.88,"v":211},{"s":"Kina","t":2019.0,"v":199},{"s":"Kina","t":2019.12,"v":229},{"s":"Kina","t":2019.28,"v":258},{"s":"Kina","t":2019.34,"v":238},{"s":"Kina","t":2019.5,"v":238},{"s":"Kina","t":2019.59,"v":221},{"s":"Kina","t":2019.71,"v":242},{"s":"Kina","t":2019.87,"v":232},{"s":"Kina","t":2020.02,"v":247},{"s":"Kina","t":2020.1,"v":221},{"s":"Kina","t":2020.16,"v":242},{"s":"Kina","t":2020.23,"v":210},{"s":"Kina","t":2020.33,"v":225},{"s":"Kina","t":2020.46,"v":234},{"s":"Kina","t":2020.5,"v":273},{"s":"Kina","t":2020.67,"v":264},{"s":"Kina","t":2020.8,"v":258},{"s":"Kina","t":2020.99,"v":281},{"s":"Kina","t":2021.14,"v":292},{"s":"Kina","t":2021.23,"v":273},{"s":"Kina","t":2021.39,"v":283},{"s":"Kina","t":2021.57,"v":270},{"s":"Kina","t":2021.7,"v":292},{"s":"Kina","t":2021.85,"v":277},{"s":"Kina","t":2021.98,"v":290},{"s":"Kina","t":2022.16,"v":273},{"s":"Kina","t":2022.22,"v":242},{"s":"Kina","t":2022.32,"v":230},{"s":"Kina","t":2022.5,"v":268},{"s":"Kina","t":2022.69,"v":255},{"s":"Kina","t":2022.81,"v":230},{"s":"Kina","t":2022.97,"v":253},{"s":"Kina","t":2023.15,"v":262},{"s":"Kina","t":2023.31,"v":266},{"s":"Kina","t":2023.5,"v":255},{"s":"Kina","t":2023.59,"v":257},{"s":"Kina","t":2023.8,"v":238},{"s":"Kina","t":2023.9,"v":241},{"s":"Kina","t":2024.08,"v":219},{"s":"Kina","t":2024.14,"v":238},{"s":"Kina","t":2024.36,"v":248},{"s":"Kina","t":2024.48,"v":238},{"s":"Kina","t":2024.7,"v":216},{"s":"Kina","t":2024.73,"v":273},{"s":"Kina","t":2024.89,"v":270},{"s":"Kina","t":2025.01,"v":254},{"s":"Kina","t":2025.2,"v":266},{"s":"Kina","t":2025.26,"v":251},{"s":"Kina","t":2025.38,"v":266},{"s":"Kina","t":2025.57,"v":282},{"s":"Kina","t":2025.66,"v":304},{"s":"Kina","t":2025.85,"v":313},{"s":"Kina","t":2026.0,"v":329},{"s":"Kina","t":2026.16,"v":329},{"s":"Kina","t":2026.22,"v":307},{"s":"Kina","t":2026.34,"v":332}
]},
"mark":{"type":"line","strokeWidth":8,"strokeCap":"round","strokeJoin":"round"},
"encoding":{
"x":{"field":"t","type":"quantitative","scale":{"domain":[2005,2026.36],"nice":false,"zero":false},
"axis":{"title":null,"values":[2005,2009,2013,2017,2021,2025],"format":"d","grid":false,"labelFont":"Open Sans","labelFontSize":40,"labelColor":"#000000","labelBaseline":"alphabetic","domainColor":"#738093","domainWidth":3,"tickColor":"#1c2b4a","tickWidth":1.5,"tickSize":-13,"labelPadding":81,"labelFlush":false}},
"y":{"field":"v","type":"quantitative","scale":{"domain":[0,1000],"nice":false},
"axis":{"title":null,"values":[0,100,200,300,400,500,600,700,800,900,1000],"format":"d","grid":false,"labelFont":"Open Sans","labelFontSize":40,"labelColor":"#000000","domainColor":"#1c2b4a","domainWidth":2,"tickColor":"#1c2b4a","tickWidth":1.5,"tickSize":-14,"labelPadding":56}},
"color":{"field":"s","type":"nominal",
"scale":{"domain":["Norge","USA","Europa","Storbritannia","Framvoksende økonomier","Kina"],"range":["#0524fb","#ffc286","#3dd17a","#a8a8a8","#d6531c","#4fc1e3"]},
"legend":{"orient":"none","legendX":480,"legendY":12,"title":null,"labelFont":"Open Sans","labelFontSize":42,"labelColor":"#000000","symbolType":"stroke","symbolSize":3136,"symbolStrokeWidth":7,"labelOffset":3,"rowPadding":14,"padding":0,"labelLimit":0,"labelExpr":"datum.label == 'Framvoksende økonomier' ? '\u00a0' + datum.label : datum.label"}}
}
}
